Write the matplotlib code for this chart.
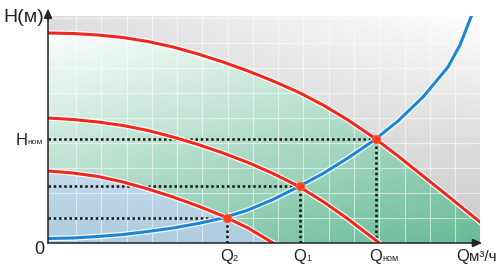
import numpy as np
import matplotlib
matplotlib.use("Agg")
import matplotlib.pyplot as plt
from matplotlib.patches import Polygon
import matplotlib.patheffects as pe

plt.rcParams['font.family'] = ['Liberation Sans', 'DejaVu Sans']

# ---- data (chart units: Q flow, H head) ----
q_pump_nom = [0, 25, 50, 75, 100, 125, 150, 175, 200, 225, 250, 275, 300, 325, 350, 375, 400, 432]
h_pump_nom = [210, 209.5, 208, 205.5, 201.5, 196, 189, 181, 172, 162, 151, 138, 123, 106, 87, 67, 47, 21]

q_pump_1 = [0, 25, 50, 75, 100, 125, 150, 175, 200, 225, 250, 275, 300, 330]
h_pump_1 = [125, 123.5, 121, 117.5, 112.5, 106, 98.5, 90, 80.5, 69.5, 57, 41.5, 24, 1]

q_pump_2 = [0, 25, 50, 75, 100, 125, 150, 175, 200, 225]
h_pump_2 = [72, 70, 66.5, 61, 54, 46, 37, 27, 15, 0]

q_system = [0, 25, 50, 75, 100, 125, 150, 175, 200, 225, 250, 275, 300, 325, 350, 375, 400, 412, 423]
h_system = [4.5, 5, 6.5, 8.5, 11.5, 15, 19.5, 25, 33, 43.5, 56, 69.5, 85, 102, 122, 146, 176, 198, 226]

op_q = [179, 252, 328]
op_h = [25, 57, 104]
op_sub = ["2", "1", "ном"]

x_max, y_max = 432, 227

# ---- figure ----
W, H = 503, 275
fig = plt.figure(figsize=(W / 100, H / 100), dpi=100)
ax = fig.add_axes([48 / W, 32 / H, 432 / W, 227 / H])
ax.set_xlim(0, x_max)
ax.set_ylim(0, y_max)
ax.set_xticks([])
ax.set_yticks([])
for s in ['top', 'right']:
    ax.spines[s].set_visible(False)
for s in ['left', 'bottom']:
    ax.spines[s].set_color('#222222')
    ax.spines[s].set_linewidth(1.1)
    ax.spines[s].set_zorder(7)

ext = (0, x_max, 0, y_max)
yy, xx = np.mgrid[0:1:200j, 0:1:400j]

# gray background
g = 0.80 + 0.07 * yy + 0.13 * xx * yy ** 1.5
ax.imshow(np.dstack([g, g, g]), extent=ext, origin='lower', aspect='auto',
          zorder=0, interpolation='bilinear')

# green area under nominal pump curve
t = np.clip(0.65 * (1 - yy) + 0.34 * xx - 0.07, 0, 1)[..., None]
c0 = np.array([0.97, 0.99, 0.98])
c1 = np.array([0.36, 0.71, 0.56])
im_g = ax.imshow(c0 + t * (c1 - c0), extent=ext, origin='lower', aspect='auto',
                 zorder=1, interpolation='bilinear')
poly_g = Polygon(list(zip([0] + q_pump_nom + [x_max], [0] + h_pump_nom + [0])),
                 closed=True, transform=ax.transData, fc='none', ec='none')
im_g.set_clip_path(poly_g)

# blue area under lowest pump curve
tb = np.clip(1 - yy / 0.32, 0, 1)[..., None]
b0 = np.array([0.76, 0.86, 0.92])
b1 = np.array([0.68, 0.80, 0.88])
im_b = ax.imshow(b0 + tb * (b1 - b0), extent=ext, origin='lower', aspect='auto',
                 zorder=1.5, interpolation='bilinear')
poly_b = Polygon(list(zip([0] + q_pump_2, [0] + h_pump_2)),
                 closed=True, transform=ax.transData, fc='none', ec='none')
im_b.set_clip_path(poly_b)

# grid
for xv in np.arange(28, x_max, 25.27):
    ax.axvline(xv, color='white', lw=0.8, alpha=0.55, zorder=2)
for yv in np.arange(25, y_max, 25):
    ax.axhline(yv, color='white', lw=0.8, alpha=0.55, zorder=2)

# dotted guide lines
for q, h in zip(op_q, op_h):
    ax.plot([0, q], [h, h], color='#111111', lw=1.8, ls=(0, (1, 1.1)),
            dash_capstyle='butt', zorder=3)
    ax.plot([q, q], [0, h], color='#111111', lw=1.8, ls=(0, (1, 1.1)),
            dash_capstyle='butt', zorder=3)

halo = [pe.Stroke(linewidth=4.0, foreground='white', alpha=0.9), pe.Normal()]
ax.plot(q_system, h_system, color='#1b86d6', lw=2.2, zorder=4, path_effects=halo)
for qs, hs in [(q_pump_nom, h_pump_nom), (q_pump_1, h_pump_1), (q_pump_2, h_pump_2)]:
    ax.plot(qs, hs, color='#f0281c', lw=2.2, zorder=5, path_effects=halo)

ax.plot(op_q, op_h, 'o', ms=6.2, mfc='#ff3d1f', mec='#ff6a4a', mew=0.6, zorder=6)

# axis arrows
arrow_kw = dict(arrowstyle='-|>,head_length=0.55,head_width=0.25', color='#222222',
                lw=1.1, shrinkA=0, shrinkB=0)
ax.annotate('', xy=(0, 1.032), xytext=(0, 0.98), xycoords='axes fraction',
            arrowprops=arrow_kw, annotation_clip=False)
ax.annotate('', xy=(1.0046, 0), xytext=(0.98, 0), xycoords='axes fraction',
            arrowprops=arrow_kw, annotation_clip=False)

tc = '#222222'
fig.text(3 / W, 1 - 18 / H, 'H(м)', fontsize=14, ha='left', va='center', color=tc)
ax.annotate('0', xy=(0, 0), xytext=(-9, -7), textcoords='offset pixels',
            ha='center', va='center', fontsize=13, color=tc, annotation_clip=False)

# H nominal label
ax.annotate('H', xy=(0, op_h[2]), xytext=(-26.5, -6), textcoords='offset pixels',
            ha='center', va='baseline', fontsize=12, color=tc, annotation_clip=False)
ax.annotate('ном', xy=(0, op_h[2]), xytext=(-21, -5), textcoords='offset pixels',
            ha='left', va='baseline', fontsize=6, color=tc, annotation_clip=False)

# Q labels
for q, sub in zip(op_q, op_sub):
    ax.annotate('Q', xy=(q, 0), xytext=(0, -18), textcoords='offset pixels',
                ha='center', va='baseline', fontsize=12, color=tc, annotation_clip=False)
    ax.annotate(sub, xy=(q, 0), xytext=(6, -18), textcoords='offset pixels',
                ha='left', va='baseline', fontsize=6.5, color=tc, annotation_clip=False)

ax.annotate('Q', xy=(1, 0), xycoords='axes fraction', xytext=(-17.5, -18),
            textcoords='offset pixels', ha='center', va='baseline', fontsize=12,
            color=tc, annotation_clip=False)
ax.annotate('м³/ч', xy=(1, 0), xycoords='axes fraction', xytext=(-11.5, -18),
            textcoords='offset pixels', ha='left', va='baseline', fontsize=11,
            color=tc, annotation_clip=False)

fig.savefig('out.png', dpi=100)
